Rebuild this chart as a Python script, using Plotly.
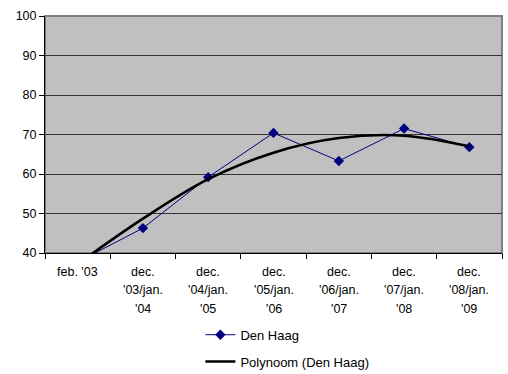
import plotly.graph_objects as go

categories = ["feb. '03", "dec. '03/jan. '04", "dec. '04/jan. '05", "dec. '05/jan. '06",
              "dec. '06/jan. '07", "dec. '07/jan. '08", "dec. '08/jan. '09"]
tick_lines = [["feb. '03"], ["dec.", "'03/jan.", "'04"], ["dec.", "'04/jan.", "'05"],
              ["dec.", "'05/jan.", "'06"], ["dec.", "'06/jan.", "'07"],
              ["dec.", "'07/jan.", "'08"], ["dec.", "'08/jan.", "'09"]]
den_haag = [37.7, 46.3, 59.2, 70.4, 63.3, 71.5, 66.8]
polynoom = [37.2, 48.7, 58.7, 65.4, 69.1, 69.7, 67.0]
y_ticks = [40, 50, 60, 70, 80, 90, 100]

FONT = "Liberation Sans, Arial, sans-serif"
fig = go.Figure()
fig.add_trace(go.Scatter(x=categories, y=den_haag, mode="lines+markers", name="Den Haag",
                         line=dict(color="#000080", width=1),
                         marker=dict(symbol="diamond", size=8, color="#000080"),
                         legend="legend"))
fig.add_trace(go.Scatter(x=categories, y=polynoom, mode="lines", name="Polynoom (Den Haag)",
                         line=dict(color="black", width=2.6, shape="spline"),
                         legend="legend2"))

L, R, T, B = 45, 6, 16, 121
fig.update_layout(
    width=508, height=374,
    margin=dict(l=L, r=R, t=T, b=B, autoexpand=False),
    paper_bgcolor="white", plot_bgcolor="#C0C0C0",
    font=dict(family=FONT, size=12.5, color="black"),
    showlegend=True,
    legend=dict(x=0.34, y=-0.345, xanchor="left", yanchor="middle",
                bgcolor="rgba(0,0,0,0)", font=dict(size=13)),
    legend2=dict(x=0.34, y=-0.458, xanchor="left", yanchor="middle",
                 bgcolor="rgba(0,0,0,0)", font=dict(size=13)),
)
fig.update_xaxes(type="category", range=[-0.5, 6.5], showgrid=False,
                 showline=True, linecolor="black", linewidth=1,
                 ticks="outside", tickson="boundaries", ticklen=5, tickcolor="black",
                 showticklabels=False, mirror=False, zeroline=False)
fig.update_yaxes(range=[40, 100], tickvals=y_ticks, showgrid=True, gridcolor="#333333",
                 gridwidth=1, showline=True, linecolor="black", linewidth=1,
                 ticks="outside", ticklen=5, tickcolor="black", zeroline=False,
                 tickfont=dict(size=12.5))

# gray plot border (top/right)
fig.add_shape(type="rect", xref="paper", yref="paper", x0=0, y0=0, x1=1, y1=1,
              line=dict(color="#808080", width=2), layer="below")

for cat, lines in zip(categories, tick_lines):
    for i, txt in enumerate(lines):
        fig.add_annotation(x=cat, y=0, xref="x", yref="paper", text=txt, showarrow=False,
                           xanchor="center", yanchor="middle", yshift=-(19 + 18.3 * i),
                           font=dict(size=12.5, family=FONT, color="black"))

fig.write_html("out.html")
